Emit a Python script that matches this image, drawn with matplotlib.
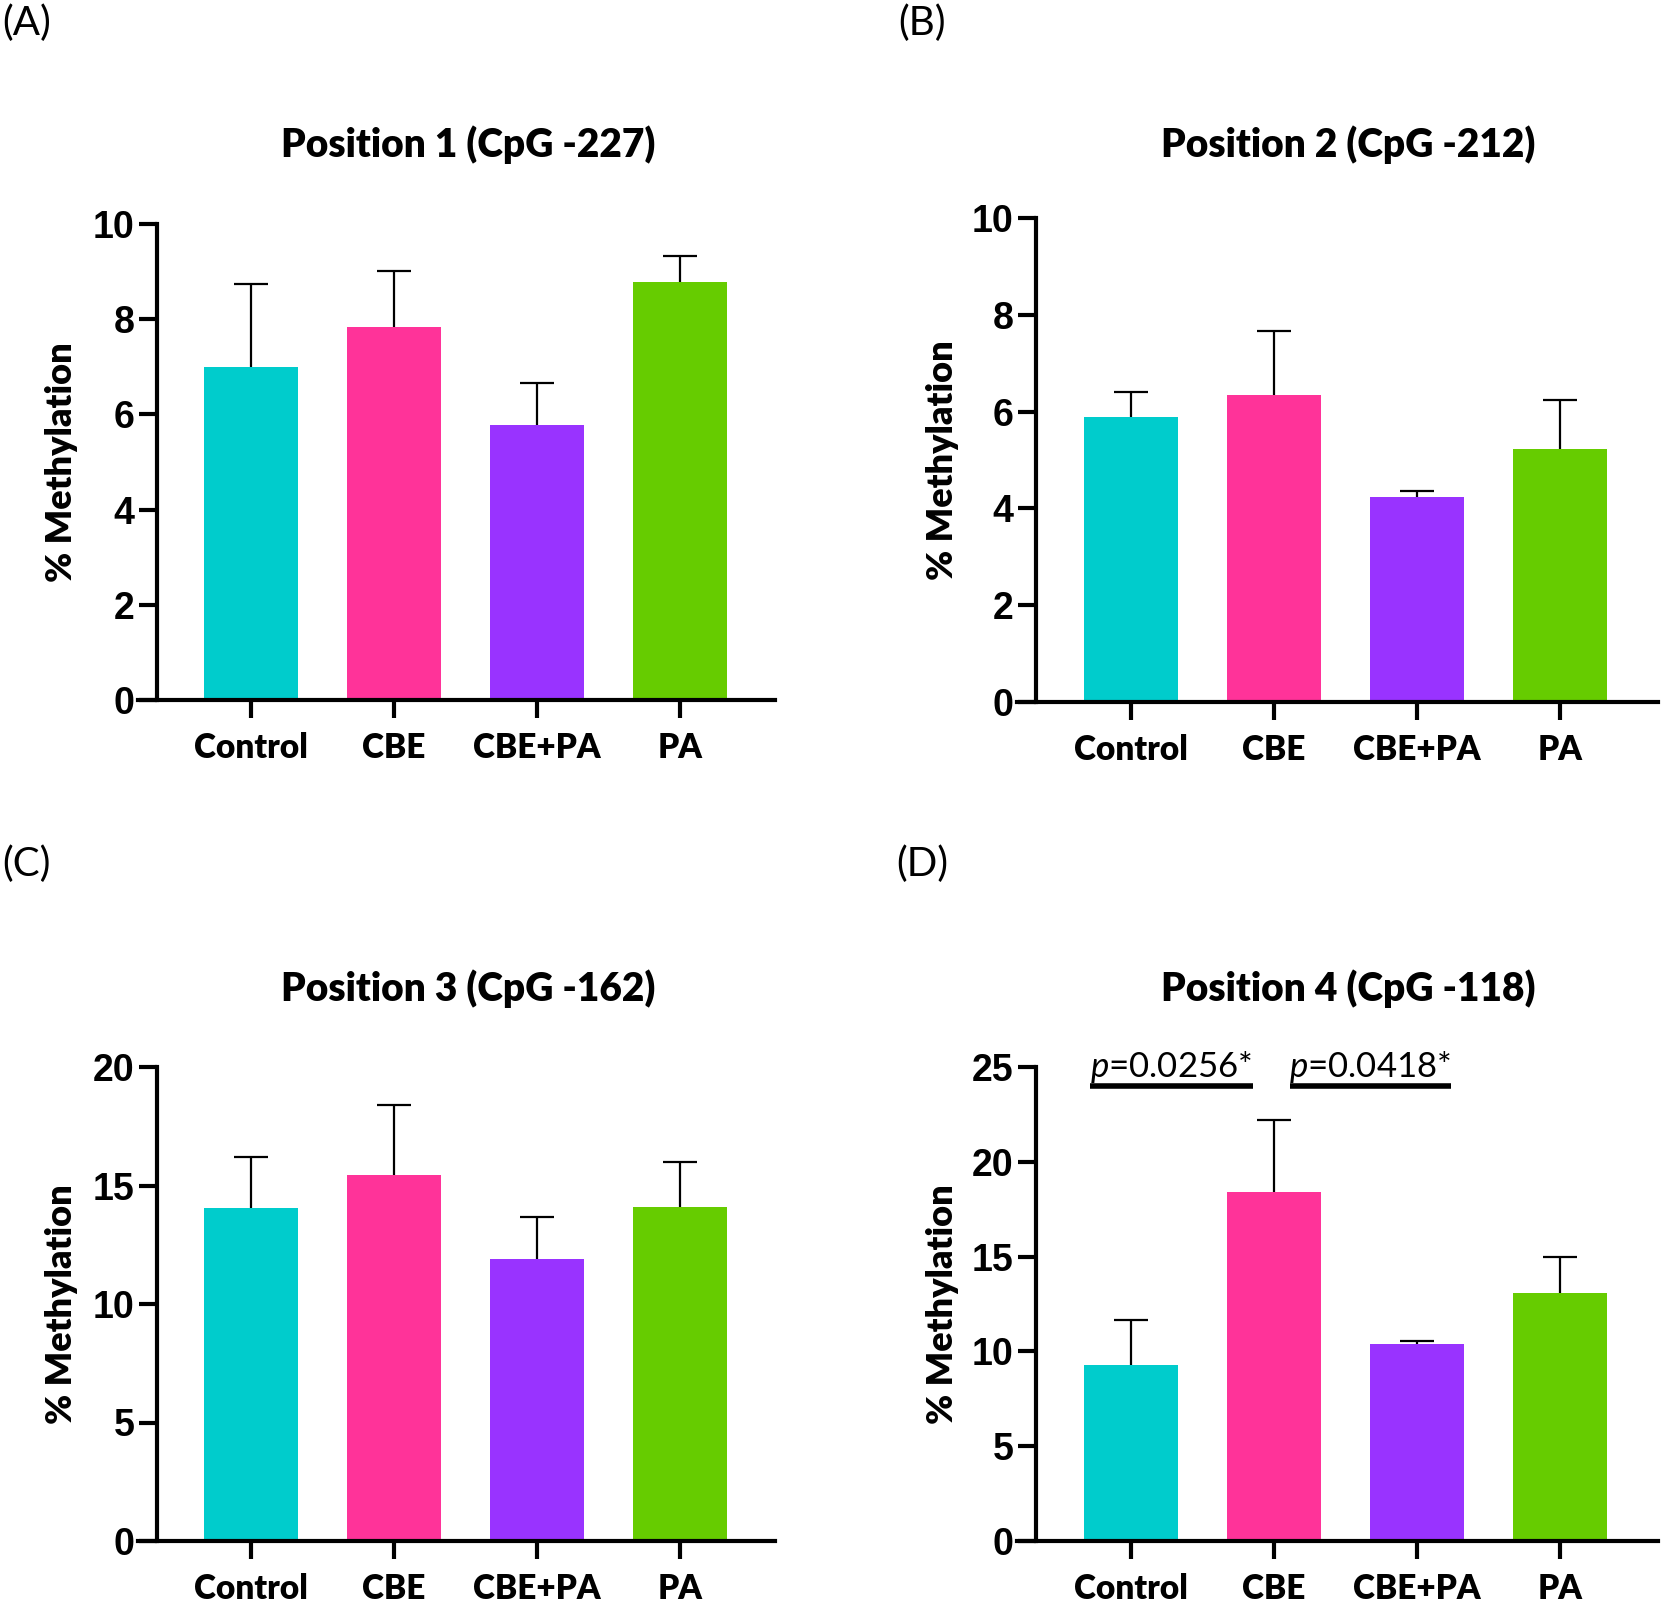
import numpy as np
import matplotlib.pyplot as plt

plt.rcParams['mathtext.fontset'] = 'custom'
plt.rcParams['mathtext.it'] = 'Lato:italic'
plt.rcParams['mathtext.rm'] = 'Lato'

groups = ['Control', 'CBE', 'CBE+PA', 'PA']
colors = ['#00CCCC', '#FF3399', '#9933FF', '#66CC00']

pos1_mean = [7.0, 7.83, 5.78, 8.78]
pos1_err = [1.74, 1.18, 0.87, 0.55]
pos2_mean = [5.89, 6.35, 4.24, 5.23]
pos2_err = [0.51, 1.32, 0.11, 1.01]
pos3_mean = [14.07, 15.46, 11.91, 14.11]
pos3_err = [2.15, 2.92, 1.75, 1.89]
pos4_mean = [9.3, 18.4, 10.4, 13.07]
pos4_err = [2.36, 3.8, 0.13, 1.9]

titles = ['Position 1 (CpG -227)', 'Position 2 (CpG -212)',
          'Position 3 (CpG -162)', 'Position 4 (CpG -118)']
letters = ['(A)', '(B)', '(C)', '(D)']
ymax = [10, 10, 20, 25]
ystep = [2, 2, 5, 5]

W, H = 1664, 1609
fig = plt.figure(figsize=(W / 100, H / 100), dpi=100)

# axes boxes in pixels: left, right, bottom (y0), top
boxes = [(138, 775, 700, 224), (1017, 1658, 702, 218),
         (138, 775, 1541, 1067), (1017, 1658, 1541, 1067)]
centers = [251, 1131, 251, 1131]
title_y = [145, 145, 989, 989]
letter_xy = [(2, 4), (898, 4), (2, 845), (896, 845)]
ylab_x = [78, 959, 78, 959]
spacing = 143.0

means = [pos1_mean, pos2_mean, pos3_mean, pos4_mean]
errs = [pos1_err, pos2_err, pos3_err, pos4_err]

for i in range(4):
    l, r, b, t = boxes[i]
    ax = fig.add_axes([l / W, 1 - b / H, (r - l) / W, (b - t) / H])
    x = np.arange(4)
    ax.bar(x, means[i], width=0.66, color=colors, zorder=2)
    eb = ax.errorbar(x, means[i], yerr=[np.zeros(4), errs[i]], fmt='none',
                     ecolor='black', elinewidth=1.6, capsize=12, capthick=1.6, zorder=3)
    eb[1][0].set_visible(False)  # no cap at the bar top
    c = centers[i]
    ax.set_xlim((l - c) / spacing, (r - c) / spacing)
    ax.set_ylim(0, ymax[i])
    ax.spines['top'].set_visible(False)
    ax.spines['right'].set_visible(False)
    ax.spines['left'].set_position(('data', (l + 19 - c) / spacing))
    ax.spines['left'].set_linewidth(3)
    ax.spines['bottom'].set_linewidth(3)
    ax.set_yticks(np.arange(0, ymax[i] + 0.1, ystep[i]))
    ax.set_xticks(x)
    ax.set_xticklabels(groups, fontfamily='Lato', fontweight='heavy', fontsize=24)
    for lab in ax.get_yticklabels():
        lab.set_fontfamily('Liberation Sans')
        lab.set_fontweight('bold')
        lab.set_fontsize(27)
    ax.tick_params(axis='both', width=3, length=13, color='black')
    ax.tick_params(axis='x', pad=10)
    ax.tick_params(axis='y', pad=3)
    ax.set_ylabel('% Methylation', fontfamily='Lato', fontweight='heavy', fontsize=26)
    ax.yaxis.set_label_coords((ylab_x[i] - l) / (r - l), 0.5)
    ax.annotate(titles[i], xy=(1.52, 1 - title_y[i] / H),
                xycoords=('data', 'figure fraction'), ha='center', va='center',
                fontfamily='Lato', fontweight='heavy', fontsize=28)
    fig.text(letter_xy[i][0] / W, 1 - letter_xy[i][1] / H, letters[i],
             ha='left', va='top', fontfamily='Lato', fontsize=29)

# significance bars for position 4
ax = fig.axes[3]
sig_text = ['$p$=0.0256*', '$p$=0.0418*']
sig_x = [(-0.29, 0.85), (1.11, 2.24)]
for k in range(2):
    x0, x1 = sig_x[k]
    ax.plot([x0, x1], [24.0, 24.0], color='black', lw=4, clip_on=False, solid_capstyle='butt')
    ax.text((x0 + x1) / 2, 24.45, sig_text[k], ha='center', va='baseline',
            fontfamily='Lato', fontsize=25, clip_on=False)

fig.savefig('out.png', dpi=100)
